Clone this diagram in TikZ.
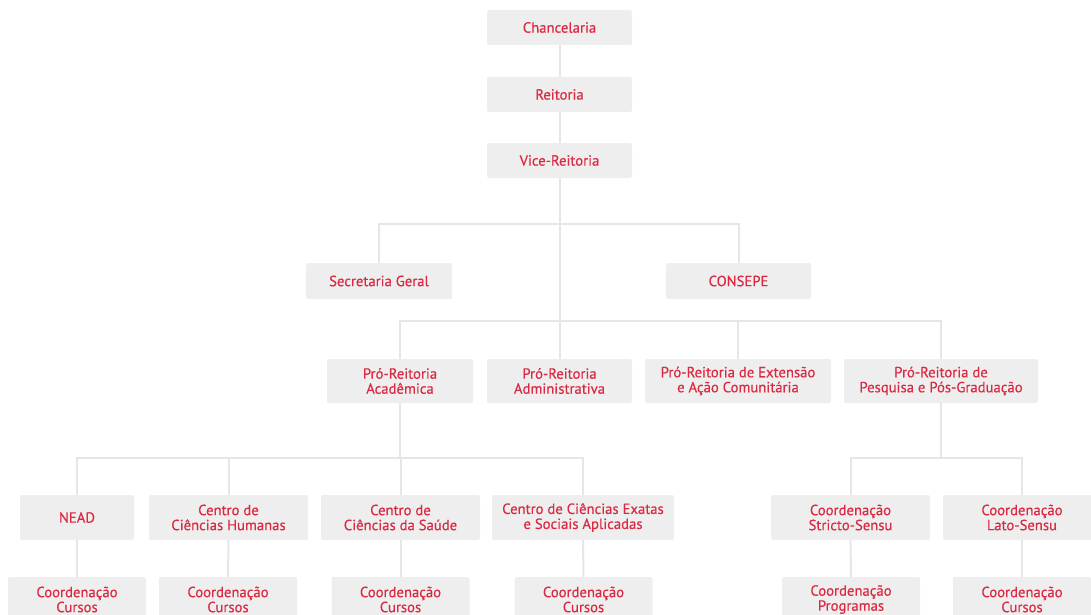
\documentclass[tikz,border=0pt]{standalone}
\usepackage{fontspec}
\setmainfont{PT Sans}
\newfontfamily\orgfont[FakeBold=0.35]{PT Sans}
\definecolor{boxgray}{HTML}{EEEEEE}
\definecolor{txtred}{HTML}{DA2A43}
\definecolor{linegray}{HTML}{E6E6E6}
\begin{document}
\begin{tikzpicture}[x=1pt,y=-1pt,
  orgbox/.style={rectangle, rounded corners=2pt, fill=boxgray, text=txtred,
    align=center, inner sep=0pt, font=\orgfont\fontsize{14.7}{15}\selectfont},
  link/.style={draw=linegray, line width=2pt}]
\useasboundingbox (0,0) rectangle (1091,615);
\clip (0,0) rectangle (1091,615);
\node[orgbox, minimum width=145pt, minimum height=35pt] (chanc) at (559.5,27.5) {Chancelaria};
\node[orgbox, minimum width=145pt, minimum height=35pt] (reit) at (559.5,94.5) {Reitoria};
\node[orgbox, minimum width=145pt, minimum height=35pt] (vice) at (559.5,160.5) {Vice-Reitoria};
\node[orgbox, minimum width=146pt, minimum height=36pt] (sec) at (379,281) {Secretaria Geral};
\node[orgbox, minimum width=145pt, minimum height=36pt] (cons) at (738.5,281) {CONSEPE};
\node[orgbox, minimum width=146pt, minimum height=44pt] (pa) at (400,381) {Pró-Reitoria\\Acadêmica};
\node[orgbox, minimum width=145pt, minimum height=44pt] (padm) at (559.5,381) {Pró-Reitoria\\Administrativa};
\node[orgbox, minimum width=186pt, minimum height=44pt] (pext) at (738,381) {Pró-Reitoria de Extensão\\e Ação Comunitária};
\node[orgbox, minimum width=194pt, minimum height=44pt] (ppes) at (941,381) {Pró-Reitoria de\\Pesquisa e Pós-Graduação};
\node[orgbox, minimum width=114pt, minimum height=45pt] (nead) at (77,517.5) {NEAD};
\node[orgbox, minimum width=159pt, minimum height=45pt] (cch) at (228.5,517.5) {Centro de\\Ciências Humanas};
\node[orgbox, minimum width=159pt, minimum height=45pt] (ccs) at (400.5,517.5) {Centro de\\Ciências da Saúde};
\node[orgbox, minimum width=182pt, minimum height=45pt] (cce) at (583,517.5) {Centro de Ciências Exatas\\e Sociais Aplicadas};
\node[orgbox, minimum width=159pt, minimum height=45pt] (cst) at (850.5,517.5) {Coordenação\\Stricto-Sensu};
\node[orgbox, minimum width=158pt, minimum height=45pt] (clat) at (1022,517.5) {Coordenação\\Lato-Sensu};
\node[orgbox, minimum width=138pt, minimum height=45pt] (k1) at (77,599.5) {Coordenação\\Cursos};
\node[orgbox, minimum width=138pt, minimum height=45pt] (k2) at (228,599.5) {Coordenação\\Cursos};
\node[orgbox, minimum width=138pt, minimum height=45pt] (k3) at (400.5,599.5) {Coordenação\\Cursos};
\node[orgbox, minimum width=138pt, minimum height=45pt] (k4) at (583.5,599.5) {Coordenação\\Cursos};
\node[orgbox, minimum width=138pt, minimum height=45pt] (k5) at (851,599.5) {Coordenação\\Programas};
\node[orgbox, minimum width=138pt, minimum height=45pt] (k6) at (1022,599.5) {Coordenação\\Cursos};
% connectors
\draw[link] (chanc.south) -- (reit.north);
\draw[link] (reit.south) -- (vice.north);
\draw[link] (vice.south) -- (padm.north);
\draw[link] (sec.north) -- (sec.north |- 0,224) -- (cons.north |- 0,224) -- (cons.north);
\draw[link] (pa.north) -- (pa.north |- 0,321) -- (ppes.north |- 0,321) -- (ppes.north);
\draw[link] (pext.north) -- (pext.north |- 0,321);
\draw[link] (pa.south) -- (pa.south |- 0,458);
\draw[link] (nead.north) -- (nead.north |- 0,458) -- (cce.north |- 0,458) -- (cce.north);
\draw[link] (cch.north) -- (cch.north |- 0,458);
\draw[link] (ccs.north) -- (ccs.north |- 0,458);
\draw[link] (ppes.south) -- (ppes.south |- 0,458);
\draw[link] (cst.north) -- (cst.north |- 0,458) -- (clat.north |- 0,458) -- (clat.north);
\draw[link] (nead.south) -- (k1.north);
\draw[link] (cch.south) -- (k2.north);
\draw[link] (ccs.south) -- (k3.north);
\draw[link] (cce.south) -- (k4.north);
\draw[link] (cst.south) -- (k5.north);
\draw[link] (clat.south) -- (k6.north);
\end{tikzpicture}
\end{document}
